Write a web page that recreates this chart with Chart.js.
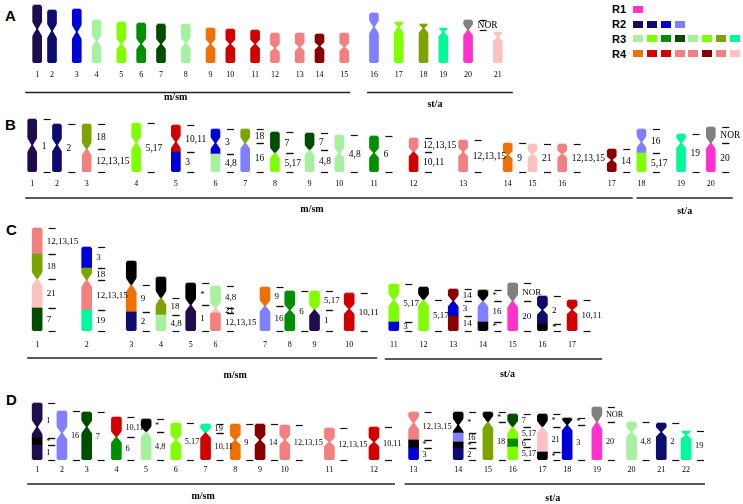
<!DOCTYPE html>
<html>
<head>
<meta charset="utf-8">
<script src="https://cdn.jsdelivr.net/npm/chart.js@4.4.1/dist/chart.umd.min.js"></script>
<style>
  body { margin: 0; background: #fff; width: 743px; height: 504px; overflow: hidden; position: relative; }
  .panel { position: absolute; left: 0; width: 743px; }
  .letter { position: absolute; font: bold 15px "Liberation Sans", Arial, sans-serif; line-height: 15px; }
  #legend { position: absolute; left: 612px; top: 2px; font: bold 11px "Liberation Sans", Arial, sans-serif; }
  #legend .row { display: flex; align-items: center; height: 14.8px; }
  #legend .row b { width: 21.3px; }
  #legend .row span { width: 10px; height: 7px; margin-right: 3.8px; display: inline-block; }
</style>
</head>
<body>
<div class="letter" style="left:5px;top:8px">A</div>
<div class="letter" style="left:5px;top:117px">B</div>
<div class="letter" style="left:6px;top:222px">C</div>
<div class="letter" style="left:6px;top:392px">D</div>
<div id="legend"></div>
<div class="panel" style="top:1px;height:110px"><canvas id="chartA"></canvas></div>
<div class="panel" style="top:114px;height:104px"><canvas id="chartB"></canvas></div>
<div class="panel" style="top:223px;height:158px"><canvas id="chartC"></canvas></div>
<div class="panel" style="top:402px;height:102px"><canvas id="chartD"></canvas></div>

<script>
// number of slots on each x axis (chromosomes sit on some of them)
const SLOTS = 150;

// colour of each reference chromosome (panel A)
const refColor = {
  1: '#1f0b4d', 2: '#0b0b70', 3: '#0000d8', 4: '#a6f0a0', 5: '#80ff00', 6: '#008f00', 7: '#004d00',
  8: '#a6f0a0', 9: '#f07008', 10: '#d20000', 11: '#d20000', 12: '#f28080', 13: '#f28080', 14: '#880000',
  15: '#f28080', 16: '#8080ff', 17: '#80ff00', 18: '#7ba400', 19: '#00fa9a', 20: '#ff33cc', 21: '#ffc0c0'
};

// legend rows R1..R4
const legendNames = ['R1', 'R2', 'R3', 'R4'];
const legendRows = [[20], [1, 2, 3, 16], [4, 5, 6, 7, 8, 17, 18, 19], [9, 10, 11, 12, 13, 14, 15, 21]];

// ---- panel A ----
const aNames = ['1','2','3','4','5','6','7','8','9','10','11','12','13','14','15','16','17','18','19','20','21'];
const aSlot = [7, 10, 15, 19, 24, 28, 32, 37, 42, 46, 51, 55, 60, 64, 69, 75, 80, 85, 89, 94, 100];
const aCentro = [34, 32, 31, 22, 19, 19, 19, 20, 19, 19, 19, 15, 16, 17, 16, 36, 36, 35, 31, 33, 26];
// segments from the bottom up: [top of segment, homology]
const aSegs = [
  [[58,'1']], [[53,'2']], [[54,'3']], [[43,'4']], [[41,'5']], [[40,'6']], [[39,'7']], [[39,'8']],
  [[35,'9']], [[34,'10']], [[33,'11']], [[30,'12']], [[30,'13']], [[29,'14']], [[30,'15']],
  [[50,'16']], [[41,'17']], [[39,'18']], [[35,'19']], [[33,'20'],[43,'NOR']], [[31,'21']]
];

// ---- panel B ----
const bNames = ['1','2','3','4','5','6','7','8','9','10','11','12','13','14','15','16','17','18','19','20'];
const bSlot = [6, 11, 17, 27, 35, 43, 49, 55, 62, 68, 75, 83, 93, 102, 107, 113, 123, 129, 137, 143];
const bCentro = [27, 27, 23, 29, 30, 29, 29, 19, 22, 19, 19, 20, 20, 17, 18, 18, 12, 30, 29, 29];
const bSegs = [
  [[53,'1']], [[48,'2']], [[23,'12,13,15'],[48,'18']], [[49,'5,17']], [[20,'3'],[47,'10,11']],
  [[18,'4,8'],[43,'3']], [[29,'16'],[43,'18']], [[19,'5,17'],[40,'7']], [[22,'4,8'],[39,'7']],
  [[37,'4,8']], [[36,'6']], [[20,'10,11'],[34,'12,13,15']], [[32,'12,13,15']], [[29,'9']],
  [[28,'21']], [[28,'12,13,15']], [[23,'14']], [[19,'5,17'],[43,'16']], [[38,'19']], [[29,'20'],[45,'NOR']]
];

// ---- panel C ----
const cNames = ['1','2','3','4','5','6','7','8','9','10','11','12','13','14','15','16','17'];
const cSlot = [7, 17, 26, 32, 38, 43, 53, 58, 63, 70, 79, 85, 91, 97, 103, 109, 115];
const cCentro = [52, 51, 46, 33, 26, 23, 25, 21, 21, 22, 31, 31, 30, 30, 30, 21, 21];
const cSegs = [
  [[23,'7'],[52,'21'],[77,'18'],[103,'12,13,15']],
  [[21,'19'],[51,'12,13,15'],[63,'18'],[84,'3']],
  [[19,'2'],[46,'9'],[70,'-']],
  [[16,'4,8'],[33,'18'],[54,'-']],
  [[26,'1'],[48,'*']],
  [[18,'12,13,15'],[23,'21'],[45,'4,8']],
  [[25,'16'],[44,'9']],
  [[40,'6']],
  [[21,'1'],[40,'5,17']],
  [[38,'10,11']],
  [[9,'3'],[47,'5,17']],
  [[31,'5,17'],[44,'-']],
  [[15,'14'],[30,'3'],[42,'14']],
  [[9,'*'],[30,'16'],[41,'*']],
  [[30,'20'],[48,'NOR']],
  [[7,'*'],[35,'2']],
  [[31,'10,11']]
];

// ---- panel D ----
const dNames = ['1','2','3','4','5','6','7','8','9','10','11','12','13','14','15','16','17','18','19','20','21','22'];
const dSlot = [7, 12, 17, 23, 29, 35, 41, 47, 52, 57, 66, 75, 83, 92, 98, 103, 109, 114, 120, 127, 133, 138];
const dCentro = [33, 27, 33, 23, 28, 20, 27, 20, 20, 20, 18, 18, 37, 35, 38, 33, 33, 35, 38, 28, 28, 25];
const dSegs = [
  [[15,'1'],[22,'*'],[57,'1']],
  [[49,'16']],
  [[48,'7']],
  [[23,'6'],[43,'10,11']],
  [[28,'4,8'],[41,'*']],
  [[37,'5,17']],
  [[27,'10,11'],[36,'19']],
  [[36,'9']],
  [[36,'14']],
  [[35,'12,13,15']],
  [[32,'12,13,15']],
  [[33,'10,11']],
  [[12,'3'],[20,'*'],[48,'12,13,15']],
  [[12,'2'],[18,'*'],[27,'16'],[48,'*']],
  [[38,'18'],[48,'*']],
  [[13,'5,17'],[21,'6'],[33,'5,17'],[46,'7']],
  [[8,'*'],[33,'21'],[46,'*']],
  [[35,'3'],[42,'*']],
  [[38,'20'],[53,'NOR']],
  [[38,'4,8']],
  [[37,'2']],
  [[29,'19']]
];

// layout of each panel (pixels)
const panels = [
  { id: 'chartA', names: aNames, slot: aSlot, centro: aCentro, segs: aSegs, ymax: 62, axisH: 48, numPad: 7.5, bar: 9, onlyNOR: true, lab: 9.5, gap: 5,
    groups: [ { text: 'm/sm', a: 0, b: 14, l: 12, r: 6, line: 29.5, ty: 34.5, dx: -12 },
              { text: 'st/a', a: 15, b: 20, l: 7, r: 15, line: 29.5, ty: 41, dx: -5 } ] },
  { id: 'chartB', names: bNames, slot: bSlot, centro: bCentro, segs: bSegs, ymax: 58, axisH: 46, numPad: 7.5, bar: 9, lab: 9.5, gap: 5,
    groups: [ { text: 'm/sm', a: 0, b: 16, l: 7, r: 21, line: 26, ty: 37, dx: -17 },
              { text: 'st/a', a: 17, b: 19, l: 5, r: 22, line: 26, ty: 39, dx: 0 } ] },
  { id: 'chartC', names: cNames, slot: cSlot, centro: cCentro, segs: cSegs, ymax: 108, axisH: 50, numPad: 9.5, bar: 10, lab: 9, gap: 4.5,
    groups: [ { text: 'm/sm', a: 0, b: 9, l: 10, r: 28, line: 27, ty: 44, dx: 33 },
              { text: 'st/a', a: 10, b: 16, l: 9, r: 30, line: 28, ty: 43, dx: 14 } ] },
  { id: 'chartD', names: dNames, slot: dSlot, centro: dCentro, segs: dSegs, ymax: 58, axisH: 44, numPad: 5.5, bar: 10, lab: 8.3, gap: 4,
    groups: [ { text: 'm/sm', a: 0, b: 11, l: 10, r: 21, line: 24, ty: 36, dx: -8 },
              { text: 'st/a', a: 12, b: 21, l: 9, r: 19, line: 24, ty: 38, dx: -2 } ] }
];

function colorOf(key) {
  if (key === '*' || key === '-') return '#000000';
  if (key === 'NOR') return '#808080';
  return refColor[parseInt(key, 10)];
}

// legend
const legend = document.getElementById('legend');
legendNames.forEach((name, r) => {
  const row = document.createElement('div');
  row.className = 'row';
  row.innerHTML = `<b>${name}</b>` + legendRows[r].map(n => `<span style="background:${refColor[n]}"></span>`).join('');
  legend.appendChild(row);
});

// centromere notches, segment labels and group lines
function chromoPlugin(p) {
  return {
    id: 'chromo',
    afterDatasetsDraw(chart) {
      const { ctx, scales: { x, y } } = chart;
      const hw = p.bar / 2;
      ctx.save();
      // first pass: cut the notches
      ctx.fillStyle = '#fff';
      p.slot.forEach((s, i) => {
        const segs = p.segs[i];
        const L = segs[segs.length - 1][0];
        const cx = x.getPixelForValue(s);
        const yt = y.getPixelForValue(L);
        const yb = y.getPixelForValue(0);
        const yc = y.getPixelForValue(p.centro[i]);
        const t = Math.min(8, Math.max(4, (yb - yt) * 0.15));
        const tu = Math.min(t, yc - yt);
        const td = Math.min(t, yb - yc);
        [-1, 1].forEach(sg => {
          ctx.beginPath();
          ctx.moveTo(cx + sg * (hw + 1), yc - tu);
          ctx.lineTo(cx + sg * 0.8, yc);
          ctx.lineTo(cx + sg * (hw + 1), yc + td);
          ctx.closePath();
          ctx.fill();
          // small bevel on the ends
          [yt, yb].forEach((ye, k) => {
            const d = k === 0 ? 1 : -1;
            ctx.beginPath();
            ctx.moveTo(cx + sg * (hw + 0.5), ye - d * 0.5);
            ctx.lineTo(cx + sg * (hw - 1.6), ye - d * 0.5);
            ctx.lineTo(cx + sg * (hw + 0.5), ye + d * 1.6);
            ctx.closePath();
            ctx.fill();
          });
        });
      });

      // second pass: labels on the right
      ctx.strokeStyle = '#111';
      ctx.lineWidth = 1.2;
      ctx.fillStyle = '#000';
      ctx.font = p.lab + 'px "Liberation Serif", "DejaVu Serif", serif';
      ctx.textBaseline = 'middle';
      ctx.textAlign = 'left';
      p.slot.forEach((s, i) => {
        const cx = x.getPixelForValue(s);
        let from = 0;
        p.segs[i].forEach(([to, key]) => {
          if (key !== '-' && (!p.onlyNOR || key === 'NOR')) {
            const y0 = y.getPixelForValue(from);
            const y1 = y.getPixelForValue(to);
            [y0, y1].forEach(yy => {
              ctx.beginPath();
              ctx.moveTo(cx + hw + p.gap + 2, Math.round(yy) + 0.5);
              ctx.lineTo(cx + hw + p.gap + 9, Math.round(yy) + 0.5);
              ctx.stroke();
            });
            ctx.fillText(key, cx + hw + p.gap, (y0 + y1) / 2 + 0.5);
          }
          from = to;
        });
      });
      ctx.restore();
    },
    afterDraw(chart) {
      const { ctx, scales: { x } } = chart;
      const base = chart.chartArea.bottom;
      ctx.save();
      p.groups.forEach(g => {
        const x0 = x.getPixelForValue(p.slot[g.a]) - g.l;
        const x1 = x.getPixelForValue(p.slot[g.b]) + g.r;
        ctx.strokeStyle = '#222';
        ctx.lineWidth = 1.4;
        ctx.beginPath();
        ctx.moveTo(x0, base + g.line);
        ctx.lineTo(x1, base + g.line);
        ctx.stroke();
        ctx.fillStyle = '#000';
        ctx.font = 'bold 10px "Liberation Serif", "DejaVu Serif", serif';
        ctx.textAlign = 'center';
        ctx.textBaseline = 'middle';
        ctx.fillText(g.text, (x0 + x1) / 2 + g.dx, base + g.ty);
      });
      ctx.restore();
    }
  };
}

function drawPanel(p) {
  const labels = new Array(SLOTS).fill('');
  p.slot.forEach((s, i) => { labels[s] = p.names[i]; });

  const maxSeg = Math.max(...p.segs.map(s => s.length));
  const datasets = [];
  for (let k = 0; k < maxSeg; k++) {
    const data = new Array(SLOTS).fill(null);
    const colors = new Array(SLOTS).fill('#fff');
    p.slot.forEach((s, i) => {
      const seg = p.segs[i][k];
      if (!seg) return;
      const from = k === 0 ? 0 : p.segs[i][k - 1][0];
      data[s] = [from, seg[0]];
      colors[s] = colorOf(seg[1]);
    });
    datasets.push({ data, backgroundColor: colors, borderWidth: 0, borderSkipped: false,
                    barThickness: p.bar, grouped: false });
  }

  new Chart(document.getElementById(p.id).getContext('2d'), {
    type: 'bar',
    data: { labels, datasets },
    options: {
      responsive: true,
      maintainAspectRatio: false,
      animation: false,
      layout: { padding: 0 },
      plugins: { legend: { display: false }, tooltip: { enabled: false } },
      scales: {
        x: {
          // tick length (not tick padding) pushes the numbers down without padding the sides
          grid: { display: false, drawTicks: true, tickLength: p.numPad },
          border: { display: false },
          ticks: { autoSkip: false, maxRotation: 0, minRotation: 0, padding: 0, color: '#000',
                   font: { family: '"Liberation Serif", "DejaVu Serif", serif', size: 8 } },
          afterFit: (scale) => { scale.height = p.axisH; }
        },
        y: { display: false, min: 0, max: p.ymax }
      }
    },
    plugins: [chromoPlugin(p)]
  });
}

panels.forEach(drawPanel);
</script>
</body>
</html>
